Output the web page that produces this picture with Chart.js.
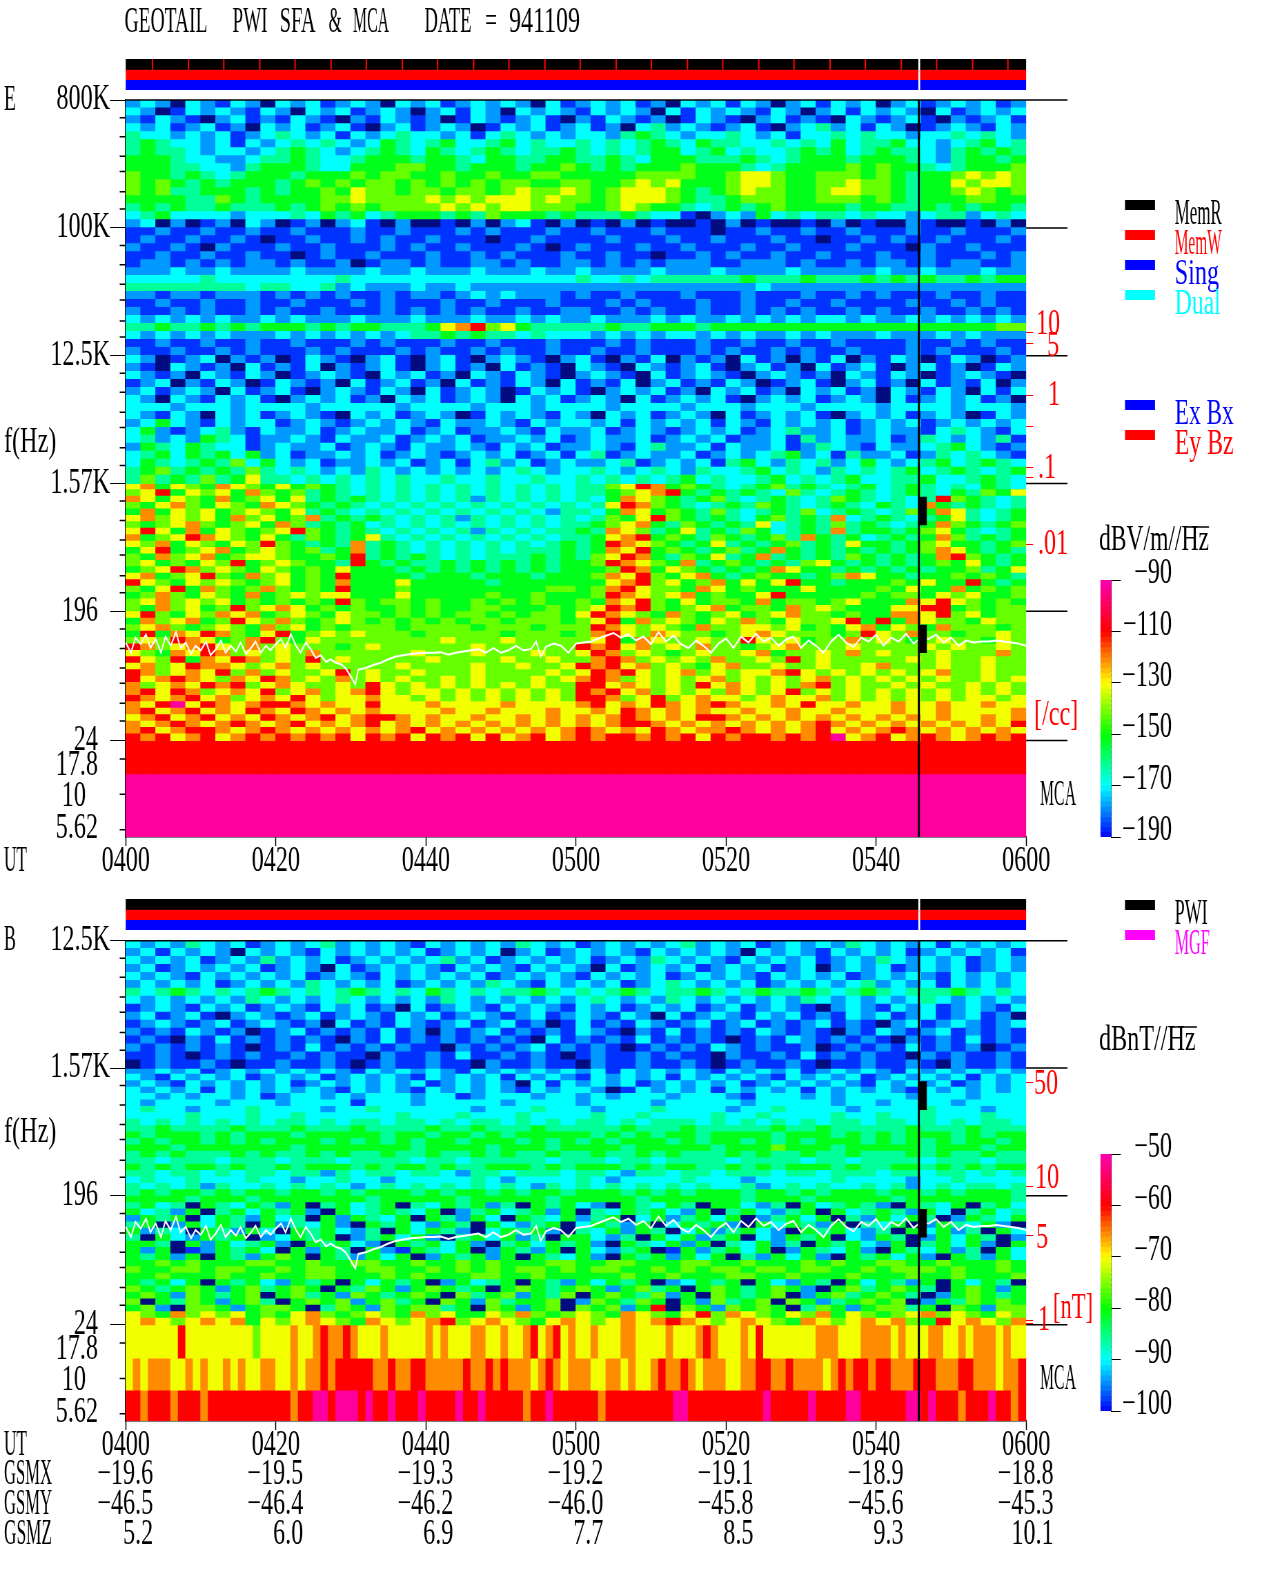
<!DOCTYPE html>
<html>
<head>
<meta charset="utf-8">
<title>GEOTAIL PWI SFA & MCA 941109</title>
<script src="https://cdn.jsdelivr.net/npm/chart.js@4"></script>
<style>
  html, body { margin: 0; padding: 0; background: #fff; overflow: hidden; width: 1280px; height: 1593px; }
  canvas { position: absolute; left: 0; transform-origin: 0 0; }
</style>
</head>
<body>
<canvas id="specE" width="1855" height="900" style="top:0"></canvas>
<canvas id="specB" width="1855" height="723" style="top:870px"></canvas>
<canvas id="stripE" width="1855" height="31" style="top:59px"></canvas>
<canvas id="stripB" width="1855" height="31" style="top:899px"></canvas>
<canvas id="barE" width="1855" height="320" style="top:540px"></canvas>
<canvas id="barB" width="1855" height="320" style="top:1114px"></canvas>
<script>
// level letters: k below range, then blue to magenta along the colour bar
const letterDb = {k:-200,b:-186,d:-178,c:-170,t:-162,g:-152,l:-142,y:-131,o:-121,r:-110,m:-92};

// E field, 800K down to 1.57K, 2 min columns
const eUpperRows = [
"dcdkcdbcdk cdcbdcdkcd cbdcdcdkcb dcdcbdkcdc bcdkdcbcdc kdcbdcdcbd",
"cdkbcdcdbc dkcdcbdcdk dcbcdkcdcd bcdcdkcbcd cdbcdkdcbc dcdkcbdcdc",
"dbcdbkdcbd bcdbkdbcdb dkbcdbdcbk dbcdbdkbcd bkdcbdbkcd bdcbkdbdcb",
"cdcbdcbdkc dcbdcbkdcb dcdkbcdcbd cbdkctdcdb dcbkdctdcb cdkbdcdbcd",
"tccdcdcbdc tcdcbcdctc cdcbctcdcd ccdtgtcdcc tcdcbcctct ccdcctctcd",
"tgtccdcbcd ctctcdcgtc tgcctgctcc tctctgtcgt tcctctcgct tgccdctgct",
"tgttcdccdc tgtcdctgtc gtctgtcttg tctctggctg ctcctgtgct gttcdtgtgt",
"gggtccddct tgtcctgggt ggtcggttgg ttgtcgggtt tgtctgggtg ggtcdtggtg",
"gggttccdtg ggtccgggll ggtgggtggl gtgtggglgg gtctgggglg lggtctgggl",
"lggtgtctgg gtggglgllg glgglggllg ggggllllgg lyylgglllg lgtgglylyl",
"lglgtgtggg tglglgllgl glglgllggl lgglylyggg lyylggllyl lgtggylyyl",
"lglttgggtg tgglgyllgl lgllglylly lglyyylgtg lyllgglyyl lgtgglylgl",
"ggggttlgtg gggllyllll ylylyyylyl lglyyylgtt glllgglllg lgtgggllgg",
"tgtgttgttt gtglglglll lylylyylll gglylggtct gtglggggtg gttgtgtggt",
"ctgccccdcc ctcgtgctgg gtgtlgggtg tttgtccbkd cdgctcttct ccdcttdctc",
"dckdkbdkcd kbdkdcbkdk kbkdkdcbkd kbkdkbkkbk dkbkkbkdkb kkdbkkbkdk",
"bbdbbdbbdb bdbbbdbbdb bbdbdbbbdb bdbbbdbbbk bbdbbdbbdb bbdbbdbbbd",
"bdbbdbbdbk bbdbbdbdbb dbbbkbbdbb bbdbbbdbbd bbbdbbkbbd bdbbdbbbdb",
"dbbdbkdbbb dbbdbbbdbd bbdbbbdbkb dbbbdbbdbb bdbbdbbbdb bbkdbbdbbb",
"bbdbbdbbdb bkbdbbdbbb dbbdbdbbbd bbdbbkbbdb dbbdbbdbbb dbbdbbbdbd",
"bddbdbdbdd bdbbdkbddb dbbddbdbbd dbdbdbdddb bdddbdbbdb ddbdbddbbd",
"dddcddcddd dcddddcddc dddcdddcdd cddddcdddc ddddcddddd cddcdddcdd",
"ccccctcccc cccctccccc cccccccccc tcctcttttt tgtttgtttg tgtgttgtgg",
"ttttttttct tcctdcdddc ddcddddddd dddddddddd ddcddddddd dddddddddd",
"ddbddbdddb dbdbdbbdbd dbdcdcdddb dbbdbbbdbb bdbbbdbbdb dbbbdbbdbb",
"bbdbbdbbdb bdbbbdbdbb bdbbdbbbdb bbdbdbbbdb bdbbdbbdbb bbdbbdbdbb",
"dbbdbdbbdb dbbdbbbdbd bdbdbbdbbd dbbdbdbbdb bdbdbdbbdb dbbdbbdbdb",
"cdcdcdcddc dcdddcdddc dddcddcdcd dcdddcdcdd cdcdcdccdc ddcdcdcdcd",
"ttgttgtgtg ggtgtggttt gyorlygttt ttgttgggtg gggggggggg ggggggggll",
"cdcdcdcddd cdcdcdcdct tgtgttctcc cdcdcdccdc dcddcdcddd cdddcdcddd",
"bbdbbdbbdb bdbbbdbdbb bdbbdbbbdb bbdbdbbbdb bdbbdbbdbb bbdbbdbdbb",
"dbbdbbdbdb bbdbdbbbdb dbbdbdbbdb bdbbdbbbdb dbbdbdbbdb bbdbdbbbdb",
"cdkbdckdbd kbcdbkdcbk dcbkdcdbkd cbkdbckdbd kcbdkdbckd bcdkbcdkbd",
"dbkcdbdkcb dbckdbdcbk dcbdkcbdbk cdbkcdbdcb kdcbdkcbdc bkdcbdkbcd",
"cdbdkcdbcd kbdcdbkcdc bdkcdbcdbk dcdbkcbdcd bkdcdbdkcd bcdkbdcdbk",
"bdckdbcdkb cdbdkcbdcb dkcbdbcdkc bdbckdcbdb cdkbdcbkdc bdkcbdbckd",
"dcbdcdkcbd cbkdcdbcdk cbdcdkbcdc bkdcdcbdkc dcbdkcdcbd kcdbcdkcbc",
"cdkcdbcdcb kdcdcbdkcd cbdcdkcdcb dcdkcbdcdc bkdcdcbdcd kcbdcdcbdk",
"cccdcccdcc ccdcccccdc cccdcccdcc ccdccccdcc cdcccdcccc dccccdcccd",
"cdbcdkcdcb dcdbkcdcbd cdkbcdcdbc dkcdcbdcdk cbdcdcbkdc dcbdcdkbcd",
"dcgcdbcdcc bdcdbdcdcd bcddcdbcdc cdcbcdcdcb cdbcdcdcbd cdcbdcdcdc",
"cgdbdctdbc ddcbdcddcb dcbddcdbcd dcbdcdbdcd cbdctddcbd cddbctcdbc",
"ctdcdgtcbd dcdbcddcbd cdcbddcdcb dcddcbdcdc bddcbtdcdd cbdtcdcdtb",
"dgtcgtccbd cddcbdcdbc ddcdbcdcbd dcdbctddcb cddcbdtcdb cddctgcdbd",
"ctgcgtgcgd cbddcdcbdc dbdcdcbdcb ctbdcddcbd cdctgdcbtd dcbdtctcdb",
"cgtctgtlcg cdcbddcdcb dcbctdcbdc ddctbdcdcb tgcdtctdcg cdctgctgtc",
"tgltgtgtlt ctcdcdtcdc dcdcdctcdc ctcdctcdtc ctgctcdtct ctgctgtctg",
"tltgtltgyt tctctctctc ctcctcctcc tctctctgct cctgctctgc cttgcctgtc"
];

// E field, 1.57K down to 24
const eLowerRows = [
"yogylgoylg yglgtctctc tctctctctc ttlyroglgt ctgltgtctg ctgtctcgtc",
"lyrgylygol gltgtctctc tctctctctc ttglyorgtg tgtcltctgt ctgtcgtlgy",
"oygylgogly gytgtgtctc tctdtctctc tcgoylgtgl tctgtctlgt ctctrlgtct",
"lgyolgylgo ylgtgtctct ctctctctct ctyrolgtct gtlgtctgtc gtcogtgtct",
"gogylyglyl gytgtctctc tctctctcdt tcgoyglgtl tctgtlctgt ctlgoytctg",
"yolylygoly glotgtgtct ctdtctctct ctlgyrlgtg tcgltgtoct gtctgytctg",
"lglyolglyg oltgtgctct ctctctctct tglyogtlgt gtyctgtltg tctgolgtgl",
"yrygogylgl yrlgtgtctc tctdtctctt gtoyltgytg tlgctgtotg gtglygtctg",
"oglyroylgy gtlgtgytct ctctctctct tgyorglgtl gtgltogtgc tgtgoltgtg",
"ylogylgylr lgtgtotgtc tctctctctg tgroylgtgy tgtgltgtyg gtglyggtgl",
"gyrglyogly lgltgotgtc tctctctttg tgoyrglgtg ltgogtgtgt gtgloygtgt",
"lgolyoglyy lgglgrtgtg tctctttgtg tlyrogtlgy tgotgtgtlg tgtgorlgtg",
"lyglgylrgl ylggtrgtgt tgtgtgtgtg glroylgotg lgtgtlygtg tgtglgygtg",
"glyrolylgy lglgygggtg tgtgtgtgtg gglrogylgt gtgoyggtgt gtgtggltgy",
"yoglyrlgol yglgrggggt gggtgggtgg gloyrlgyog tglggtgloy ggtgglglgt",
"rylgylylgl yglgogggyg ggggtggggg ggyorlyglo gygyrggtgg glgyggrgtg",
"lgyrgolglo lglgrggglg ggggggggll gloryllgoy glgggygggg lgyggoglgl",
"glolgylgog lylyygggyg gggglgglgg glroylyogl ggyrgggggl gllgylyggl",
"lyolylyglg lglgrlgllg lgglglglgg lgoyrlgygl lgogllglyg ggoyrylglg",
"lgolyglrly oyglglgglg lggllggglg lyrorlglyo gllgolylgg gyyrrglgll",
"yrlgyloyog lylgyllglg lgllglgllg yroylgolgl yglyollglg gooyrlygll",
"golyoglryl olglylglgl glgllglllg lyrgolylgy lolgyllyrg rgoyllgyll",
"lyolglylgo lyglglllgl lllglllgll lroylylgol lyylyglgyo gylgolllgl",
"grgoyrolgy rglylylllg lllllglllg loryloyllg lyoylllglr ylollgllyl",
"lylroyglor lgylllllll lylllyllll lyrgoyllyl lrylygllol ylglyllgyl",
"rolyorylol ylllglylll lllyllllll roryolylol lglyolllyl lllylyllyl",
"ylgoyrolyl ylolllllly lllylllyll yrolylglyl lyogllylol ylllylllol",
"rylrgoyrol ylrlylllll yllllyllyl lorolylylo llylrlylll llylyllyll",
"yolyrooyly olylllllyl lllyllylly roryolylgy ollyllylly olllyllyll",
"rolyoyrlol yllyrlylly lllyllllyl yrorylyoly lyyorylyly lylyollyll",
"ryoroyloyr olylolylyl lylylllyly orolylylyo lylylyolyl ylylyllyly",
"olyoyrorly oyllylryly lylylylyll rryoylylry oylylorlyl lylyllylyl",
"oryrolyoyr lyolyoryly ylylylylyl roryolylyl oylyrlylyl ylylylylyl",
"royoryolyo yrylyyoyyl ylylylylyl rrolyrlyoy ylyoyyolyl ylylylyyly",
"oyrmyroyor royoyyryyy oyyyyoyyyy oryoyroyor oyyoyryyoy yoyyoyyoyy",
"oryoryoyro yroyoyoyyy yoyyoyyyoy yoyroyoyoy yoyyoyyoyy yoyyoyyyyo",
"yoryoryoyr oyoryorroy oyyoyyoyoy oyoroyoyrr oyoyoyoyoy oyoyoyyoyo",
"oyoroyoroy oryoyoryoy oyoyoyoyoy oyorroyoyo yoyoyoroyo yoyoyoyoyr",
"oryorroyor oyoyoyoyor yoyoyoyoyo royoyroyoo royoyoryoy oroyoyoyoy",
"roryoryoro rororyrory roryryoryo rorrororyr orrorormyo ryoroyoror"
];

// E field MCA channels
const eMcaRows = [
"rrrrrrrrrr rrrrrrrrrr rrrrrrrrrr rrrrrrrrrr rrrrrrrrrr rrrrrrrrrr",
"mmmmmmmmmm mmmmmmmmmm mmmmmmmmmm mmmmmmmmmm mmmmmmmmmm mmmmmmmmmm"
];

// B field, 12.5K down to 1.57K
const bUpperRows = [
"cdcdtcdcbd cdctdcdcdb cdcdcdtcdc bdcdcdctdc dcbdcdcdtc dcdcbcdcdc",
"dcbcdcdkcd cdbcdcdcdc bdcdckdcbd cdcdbcdcdc dkcdcdbcdc dcbdcdcdcb",
"cdcdcbdcdt dcdcbdcdcd ctdcbdcdcd cbdcdtcdcd bcdcdcbdcd tcdcdcbdcd",
"dcbdcdcdcb dcdkcbdcdc dbcdcdbcdc dkcbdcdcbd cdcbdckdcd cbdcdcbdcd",
"cdcdbcdcdc dcbdcdbcdc dcdcbdcdcd bcdcdcbdcd cdbcdcdcbd cdcdbcdcdc",
"dcdcdcbdcd cdtcdcdcbd cdcdtcdbcd cdcbdctcdc dcbdcdcdct dcdcbcdcdc",
"tctgtctctg tctctgtctc gtctcttgtc tctgtcttgt ctgttgtctg tctttgtctc",
"cdcdcdcdtc dcdctcdcdc dtcdcdcdcd ctcdcdtcdc dcdcdtcdcd cdctcdcdcd",
"bdcdbcdcbd cdbcdcbdkc bdcdbcdcdb cdcbdcdcbd cbdcdbkdcd bcdcbdcdbc",
"dcbdcbkdcd bdcbdcdbcd cbdcdbdcbd cdbcdkcbdc dbcdcbdbcd cbdcbdcbdk",
"bdcdbdcbdc dbdkcbdbcd bdcbdcbdkb cbdbcdbdcb dcbdbdcbdb kdcbdcdbdc",
"dbdbcdbdkb dcbdbdbcbd kdbdcbdbdb cdbkdbcbdb dbcdbdbkdb cdbdcbdbdb",
"bdbkdbcbdb dbdbkdbcbd bdbdbdbkcb dbdbcbdbdb kbdbcdbdbd bkdbdbcbdb",
"dbdbdbdbkb dbcbdbdbdb bkdbdbdcbd bdbkbdbdbc dbdbbdkbdb dbcbdbdkbd",
"bbdbkbdbdb bdbdbbkdbb dbcbbdbdbk bdbbdbdbbk dbbdbcbdbd bbkdbdbbdb",
"kbdbbdbkbb dbbdbkbdbb dbbkdbbdbb kdbbdbbdbk bdbbdbkbbd bbdbkdbbdb"
];

// B field, 1.57K down to 24
const bLowerRows = [
"ddcdcbdcdc dcdcdbcdcd cdbcdcdcdc dcbcdcdcdb cdcdcbdcdc dbcdcdcdcd",
"cdbcdcdcbd cdcbdcdcdb cdcdcbcdcd bcdcdcbcdc dcdbcdcdcb dcdcdcbcdc",
"dcdbcdcdcd cbdcdcdcdc bdcdcdkcbc dcdcbdcdcd cbdcdcdcdb cdcdcbdcdc",
"cdcdcbcdcd cdcdbcdcdb cdcdcdbcdc cdkbcdcdcb cdcdcbcdcd cdbcdcdcdc",
"ccdcdccdcb dccdcdcccd ccbdcccdcc dcdcccdccc dbcccdcdcc ccdcccdccc",
"cdccccdccc dccccbcccd cccccdcccc dccccdcccc cdcccccdcc dccccdcccc",
"ctccdccctc cccdcctccc cccdccctcc cdccctcccc dcctccccdc ccctcccdcc",
"cccctccctc ctcccccctc cctccctccc ctcctcccct cctcccctcc tcctccctcc",
"tctctctctc ttctcttctt ctcttctctc ttctctttct ctctctcttc ttctctcttc",
"ttgttttgtt tgtttgtttt gttgtttgtt tttgtttgtt tttgttgttt ttgtttgttt",
"gtgggtgtgg gtgggggtgg tggtgtgggg gtgtgtggtg gggtgggtgt gtgggtgtgg",
"tgtggtgtgt gggtgtgtgt ggtgggtgtg tgtgggtgtg gtgtgtgggt gtgtgtggtg",
"gggtgggggg gtgggggggt ggggtgggtg gggtgggggt ggglgggtgg gggtgggtgg",
"tgtgtttgtg ttgtgttgtt gttgtgttgt tgttgtgttt gtgttgttgt ttgtgttgtt",
"ttctttcttt ctttcttttc ttctttttct ttcttctttt cttttcttct tttctttctt",
"gtgtggtgtt gtgggtgtgg tgttgggtgt gggtgtggtt gtgtgggtgt tggtgtgtgg",
"ttcttctctt cttdtcttct tcdttctttc ttcdttcttc tttcttcttt cttcttctct",
"ctcctccctc cdcctccdcc ccctcdcccc tcdcccctcc cdccccctcc ccdcctcccc",
"tctctdtcct ctctcdctct ctctctcdtc tctctctctc ctdctctcct ctdctcttct",
"tgtggtgtgg tggtgtgggt gtggtgtggt gggtgtgtgg gtggtgtggg tggtgtgggt",
"ggggtgggtg ggggggtggg ggtgggggtg ggggtggggg gtgggtgggg gtgggggggt",
"tgctkgtcgt dgktgctgkt cgtgdtkgtg cdkgtcgtkg gcdtkgctgt dkgtcgktgc",
"gctdgktgcg tgdkgctgtc gkdtgctgdg ktcgtgcdgk tgcdtgkgct gtdgcktgct",
"dgtgkcgtdg ctkgdgtcgk gtdgckgtcg dtgkcgdtgc gkdtgcgktd gcgtkdgtcg",
"tgkdgcgtkg dtcgdkgtgc dgtkgcdtgk cgtdgkcgtg dkgcgtdgkt cgkdgtcgdk",
"gdtckgtdgc kgtgcdtkgc gtdkcgtgdk tcgdgtkcgd tgcdkgtgcd tkgcgdtkgc",
"tkgcdgtgkd cgtgkdtgcg dktgcgdtkg gcdtkgcgdt gkcdgtgkcd gtkdgcgtkd",
"ggtkgdgctg dkgtgcdkgt gcgdktgcgt gdkgtcgdgk tcgdtkgtgc dgktgcgdkg",
"gdgkbdgtgc kgdgtkgdbg tcgkdgtdgk gcdtgkbgdt gcgkdgtcgd kgtcgdtkgc",
"gtgdgkgtdg lgkgtdgcgk dgtgdgkgtc gdkgtgdgcg ktdgcgdkgt gcgdkgtdgc",
"gglglgggll gglggllggl gglglgggll ggllgggllg glggglglgg llgglggglg",
"lggllgllgg lgllggllgg lglglgllgl gllgglglgl lgllgllggl glllglgglg",
"gglggglggl ggllggglgl gggllgglgg ggglgglggg llgglggglg gglgglgggl",
"gtgcgkgtgc dgtgkgcgtg kdgctgkgtd gcgtgkdcgt gkgcdgtkgc gtdgkgcgtk",
"lgtglgdglt glgkgtlgdg lgtgkglgtg lgdgltgkgl gtglgdkglt glgtkglgdg",
"glgdlgtglk gltgdlgtgl gkltgldgtl kglgtldgkl gtglkdgltg lgtkdglgtg",
"lkgtlgdglt kglgldgltg klgdltgglk dlgtlgkgdl tglklgdtgl glkdgtlglg",
"gldkllgdgl lgktlgdlgl ltgklgdglk lgldgrklgd lglgktlgdg lltgklgdll",
"ylgolylygl gyolglylgo lyggylolgl ylgoylgyrl oylgylogyl glyolylgyl",
"yoylyoyogy lyoylgoyly orlyoylgyo ylyoyoroyl yoylgoylyo yolgryoylo"
];

// B field MCA channels, 1 min columns
const bMcaRows = [
"yyyyyyyryy yyyyyyylyy yyoyyoroor oyyyoyyyyy oyoyyyooyy oyyoryoryo yyoyyyooyy yyoyyyoroy yyoyryyyyy yyoooyyyoo ooyoyyyooy yoyoooyoyy",
"yoyoooyyoy oyyoyoyyoo yyoyoororr rrrooroorr ooooorooro roooyoroyo ooyyooyoyy orooroyooo yyoorrooro oooyororro rrooorrroo orroooyoor",
"rrorrrorrr orrrrrrrrr rrorrmmrmm mrmrrmrrrm rrrrmrrmrr rrrorrmrrr rrrorrrrrr rrrmmrrrrr rrrrrmrrrr rmrrrrmmrr rrrrmmrmrr rorrrmrror"
];

// white trace, minutes after 0400 and Hz
const traceMinutes = [0,0.7,1.3,2,2.7,3.3,4,4.7,5.3,6,6.7,7.3,8,8.7,9.3,10,10.7,11.3,12,12.7,13.3,14,14.7,15.3,16,16.7,17.3,18,18.7,19.3,20,20.7,21.3,22,22.7,23.3,24,24.7,25.3,26,26.7,27.3,28,28.7,29.3,30,30.6,31,32,33,34,35,36,37,38,39,40,41,42,43,44,45,46,47,48,49,50,51,52,53,54,54.7,55.3,56,57,58,59,60,61,62,63,64,65,66,67,68,69,70,71,72,73,74,75,76,77,78,79,80,81,82,83,84,85,86,87,88,89,90,91,92,93,94,95,96,97,98,99,100,101,102,103,104,105,106,107,108,109,110,111,112,113,114,115,116,117,118,119,120];
const traceHz = [118,100,128,115,135,108,125,100,130,112,140,108,118,98,112,104,120,96,106,122,100,112,102,118,98,108,120,100,112,104,115,125,108,135,112,100,118,105,92,96,86,90,85,83,78,68,60,76,78,82,85,90,94,96,98,99,100,100,101,97,100,102,104,106,100,108,100,104,112,104,106,120,94,110,116,112,100,116,118,120,126,132,138,128,135,122,130,115,140,120,132,115,108,122,112,100,116,126,108,130,118,136,120,128,112,124,130,108,122,112,100,120,134,118,110,128,120,134,112,128,120,136,116,128,125,134,118,128,112,122,118,120,120,122,120,118,116,112,114];

// instrument status
const statusGapStart = 105.6;
const statusGapEnd = 105.9;
const statusTicks = [3.5,8.3,13.0,17.8,22.5,27.3,32.0,36.8,41.5,46.3,51.0,55.8,60.5,65.3,70.0,74.8,79.5,84.3,89.0,93.8,98.5,103.3,108.0,112.8,117.5];
const dataGapMinute = 105.7;
const gapBlockMinute = 106.2;
const gapBlocksHz = [[798,1258],[100,157]];

// axes
const timeTicks = [0,20,40,60,80,100,120];
const timeLabels = ['0400','0420','0440','0500','0520','0540','0600'];
const gsmX = ['−19.6','−19.5','−19.3','−19.2','−19.1','−18.9','−18.8'];
const gsmY = ['−46.5','−46.4','−46.2','−46.0','−45.8','−45.6','−45.3'];
const gsmZ = ['5.2','6.0','6.9','7.7','8.5','9.3','10.1'];
const fs = '\u2007';
// the three MCA labels do not sit exactly on their short ticks
const eFreqTicks = [800000,100000,12500,1570,196,24,15.9,9.65,5.7];
const eFreqLabels = ['800K','100K','12.5K','1.57K','196'+fs,'24'+fs,'17.8'+fs,'10'+fs+fs,'5.62'+fs];
const bFreqTicks = [12500,1570,196,24,15.9,9.65,5.7];
const bFreqLabels = ['12.5K','1.57K','196'+fs,'24'+fs,'17.8'+fs,'10'+fs+fs,'5.62'+fs];
const longTicksHz = [800000,100000,12500,1570,196,24];
const shortTicksHz = [600000,440000,320000,250000,180000,136000,75000,55000,40000,31000,22000,17000,9400,6900,5000,3900,2800,2100,1180,860,625,490,350,265,147,107,78,61,44,33,17.8,10,5.62];
const densityTicksHz = [18400,15300,6560,3960,2040,1730,586];
const densityLabels = [['10',18400,1036,-10],['5',15300,1047,1],['1',6560,1048,-2],['.1',2040,1038,-1],['.01',586,1038,-2]];
const fieldTicksHz = [1250,229,102,25.6,24.4];
const fieldLabels = [['50',1250,1034,0],['10',229,1035,-10],['5',102,1036,0],['1',25.3,1038,-3]];
const eBarTicks = [-190,-170,-150,-130,-110,-90];
const bBarTicks = [-100,-90,-80,-70,-60,-50];
const barLevels = [-190,-188,-186,-184,-182,-180,-178,-176,-174,-172,-170,-168,-166,-164,-162,-160,-158,-156,-154,-152,-150,-148,-146,-144,-142,-140,-138,-136,-134,-132,-130,-128,-126,-124,-122,-120,-118,-116,-114,-112,-110,-108,-106,-104,-102,-100,-98,-96,-94,-92];

// text placed on the page: text, x, y, colour, width
const eTexts = [
  ['GEOTAIL',124.5,20,'#000',83],['PWI',232.6,20,'#000',35],['SFA',279.6,20,'#000',36],['&',328.6,20,'#000',13],
  ['MCA',353,20,'#000',36],['DATE',424.5,20,'#000',47],['=',485,20,'#000',12],['941109',509,20,'#000',71],
  ['E',4,98,'#000',12],['f(Hz)',4,440,'#000',57],['UT',4,859,'#000',23],
  ['MemR',1174.7,212,'#000',47],['MemW',1174.7,242,'#f00',47],['Sing',1174.7,272,'#00f',47],['Dual',1174.7,302,'#0ff',46],
  ['Ex Bx',1174.7,412,'#00f',59],['Ey Bz',1174.7,442,'#f00',59],
  ['[/cc]',1034,713,'#f00',51],['MCA',1040,793,'#000',36],['dBV/m//Hz',1099,538,'#000',110]
];
const bTexts = [
  ['B',4,938,'#000',12],['f(Hz)',4,1130,'#000',57],['UT',4,1443,'#000',23],
  ['GSMX',4,1472,'#000',48],['GSMY',4,1502,'#000',48],['GSMZ',4,1532,'#000',48],
  ['PWI',1174.7,912,'#000',33],['MGF',1174.7,942,'#f0f',35],
  ['[nT]',1053,1306,'#f00',40],['MCA',1040,1377,'#000',36],['dBnT//Hz',1099,1038,'#000',98]
];
const eSwatches = [[200,'#000'],[230,'#f00'],[260,'#00f'],[290,'#0ff'],[400,'#00f'],[430,'#f00']];
const bSwatches = [[900,'#000'],[930,'#f0f']];

const SQ = 0.69;
const FONT = '"Liberation Serif"';
const TEXT_DROP = 2.5;
const stops = [[-190,0,0,255],[-170,0,255,255],[-150,0,255,0],[-130,255,255,0],[-110,255,0,0],[-90,255,0,176]];

function colorOf(db) {
  // the black specks of the reference are far smaller than a cell, so they read as navy here
  if (db < -190) return '#000c80';
  for (let i = 1; i < stops.length; i++) {
    if (db <= stops[i][0]) {
      const a = stops[i-1], b = stops[i], t = (db - a[0]) / (b[0] - a[0]);
      return 'rgb(' + [1,2,3].map(k => Math.round(a[k] + (b[k]-a[k])*t)).join(',') + ')';
    }
  }
  return 'rgb(255,0,176)';
}

function cells(rows, fTop, fBottom) {
  const data = [], colors = [];
  let len = 60;
  rows.forEach((row, r) => {
    const s = row.replace(/ /g, '');
    len = s.length;
    const hi = fTop * Math.pow(fBottom/fTop, r/rows.length);
    const lo = fTop * Math.pow(fBottom/fTop, (r+1)/rows.length);
    for (let i = 0; i < s.length; i++) {
      data.push({x: (i+0.5)*120/s.length, y: [lo, hi]});
      colors.push(colorOf(letterDb[s[i]]));
    }
  });
  return {type:'bar', data:data, backgroundColor:colors, borderWidth:0, inflateAmount:0.6,
    barThickness: 7.5*120/len/SQ, grouped:false, order:5, yAxisID:'y'};
}

function line(points, color, width, order) {
  return {type:'line', data:points, borderColor:color, borderWidth:width, pointRadius:0, tension:0,
    clip:false, order:order, yAxisID:'y'};
}

function rules(freqs, x0, x1, color) {
  const pts = [];
  freqs.forEach(f => { pts.push({x:x0,y:f}, {x:x1,y:f}, {x:x1,y:null}); });
  return line(pts, color, 1.5, 2);
}

function pageText(texts, swatches, redLabels, rowLabels, top, overline) {
  return {
    id: 'pageText',
    afterDraw(chart) {
      const c = chart.ctx;
      c.save();
      c.font = '35px ' + FONT;
      c.textBaseline = 'middle';
      c.textAlign = 'left';
      texts.forEach(t => {
        c.fillStyle = t[3];
        c.fillText(t[0], t[1]/SQ, t[2]-top+TEXT_DROP, t[4]/SQ);
      });
      swatches.forEach(s => {
        c.fillStyle = s[1];
        c.fillRect(1125/SQ, s[0]-top, 30/SQ, 10);
      });
      c.fillStyle = '#f00';
      redLabels.forEach(l => {
        c.fillText(l[0], l[2]/SQ, chart.scales.y.getPixelForValue(l[1]) + l[3] + TEXT_DROP);
      });
      c.fillStyle = '#000';
      c.strokeStyle = '#000';
      c.lineWidth = 1.5;
      c.beginPath();
      c.moveTo(overline[0]/SQ, overline[2]-top);
      c.lineTo(overline[1]/SQ, overline[2]-top);
      c.stroke();
      c.textAlign = 'right';
      rowLabels.forEach(r => {
        timeTicks.forEach((t, i) => {
          c.fillText(r[0][i], chart.scales.x.getPixelForValue(t) + 27.5/SQ, r[1]-top+TEXT_DROP);
        });
      });
      c.restore();
    }
  };
}

function spectrogram(id, datasets, fMax, freqTicks, freqLabels, redTicks, plugin, topPad, bottomPad) {
  return new Chart(document.getElementById(id).getContext('2d'), {
    data: {datasets: datasets},
    plugins: [plugin],
    options: {
      responsive:false, animation:false, devicePixelRatio:1,
      events:[],
      layout:{padding:{left:0, top:topPad, bottom:bottomPad, right:(1280-1026.2-7)/SQ}},
      plugins:{legend:{display:false}, tooltip:{enabled:false}},
      scales:{
        x:{type:'linear', min:0, max:120, offset:false,
          afterBuildTicks(s){ s.ticks = timeTicks.map(v => ({value:v})); },
          afterFit(s){ s.height = 50; },
          grid:{drawOnChartArea:false, offset:false, tickLength:9, color:'#000', tickWidth:1.5},
          border:{color:'#000', width:1.5},
          ticks:{color:'#000', font:{family:FONT, size:35}, padding:-5, maxRotation:0, autoSkip:false, align:'center',
            callback(v){ return timeLabels[timeTicks.indexOf(v)]; }}},
        y:{type:'logarithmic', position:'left', min:5, max:fMax,
          afterBuildTicks(s){ s.ticks = freqTicks.map(v => ({value:v})); },
          afterFit(s){ s.width = 125.7/SQ; },
          grid:{drawOnChartArea:false, tickLength:15.7/SQ,
            tickColor(c){ return longTicksHz.includes(c.tick && c.tick.value) ? '#000' : 'rgba(0,0,0,0)'; }},
          border:{color:'#000', width:1.5},
          ticks:{color:'#000', font:{family:FONT, size:35}, padding:0, labelOffset:0, autoSkip:false,
            callback(v){ return freqLabels[freqTicks.indexOf(v)]; }}},
        yr:{type:'logarithmic', position:'right', min:5, max:fMax,
          afterBuildTicks(s){ s.ticks = redTicks.map(v => ({value:v})); },
          afterFit(s){ s.width = 7/SQ; },
          grid:{drawOnChartArea:false, tickLength:7/SQ, tickColor:'#f00'},
          border:{display:false},
          ticks:{display:false}}
      }
    }
  });
}

function overlays(fMax, freqRight, blocks) {
  const trace = traceMinutes.map((m, i) => ({x:m, y:traceHz[i]}));
  return [
    line(trace, '#fff', 2, 3),
    line([{x:dataGapMinute,y:fMax},{x:dataGapMinute,y:5}], '#000', 3, 1),
    rules(freqRight, 120, 125.5, '#000'),
    rules(shortTicksHz.filter(f => f < fMax), -0.8, 0, '#000'),
    rules([fMax], 0, 125.5, '#000'),
    {type:'bar', data:blocks.map(b => ({x:gapBlockMinute, y:b})), backgroundColor:'#000', barThickness:8/SQ, grouped:false, order:1.5, yAxisID:'y'}
  ];
}

function strip(id, withTicks) {
  const rows = ['MemR','MemW','Sing'];
  const colors = ['#000','#f00','#00f'];
  const sets = [];
  rows.forEach((r, i) => {
    sets.push({data:[{y:r, x:[0,statusGapStart]},{y:r, x:[statusGapEnd,120]}], backgroundColor:colors[i], grouped:false,
      categoryPercentage:1, barPercentage:1, borderWidth:0, order:2});
  });
  if (withTicks) sets.push({data:statusTicks.map(t => ({y:'MemR', x:[t,t+0.13]})), backgroundColor:'#f00', grouped:false,
    categoryPercentage:1, barPercentage:1, order:1});
  return new Chart(document.getElementById(id).getContext('2d'), {
    type:'bar',
    data:{labels:rows, datasets:sets},
    options:{
      indexAxis:'y', responsive:false, animation:false, devicePixelRatio:1, events:[],
      layout:{padding:{left:125.7/SQ, right:(1280-1026.2)/SQ, top:0, bottom:0}},
      plugins:{legend:{display:false}, tooltip:{enabled:false}},
      scales:{x:{type:'linear', min:0, max:120, display:false}, y:{type:'category', display:false}}
    }
  });
}

function colorBar(id, ticks, toValue) {
  const data = barLevels.map(l => ({x:0.5, y:[toValue(l), toValue(l+2)]}));
  return new Chart(document.getElementById(id).getContext('2d'), {
    type:'bar',
    data:{datasets:[{data:data, backgroundColor:barLevels.map(l => colorOf(l+1)), barThickness:11/SQ, borderWidth:0, inflateAmount:0.5, grouped:false}]},
    options:{
      responsive:false, animation:false, devicePixelRatio:1, events:[],
      layout:{padding:{left:1100.4/SQ, right:(1280-1172)/SQ, top:40, bottom:23}},
      plugins:{legend:{display:false}, tooltip:{enabled:false}},
      scales:{
        x:{type:'linear', min:0, max:1, offset:false, display:false},
        y:{type:'linear', position:'right', min:ticks[0], max:ticks[5],
          afterBuildTicks(s){ s.ticks = ticks.map(v => ({value:v})); },
          afterFit(s){ s.width = (1172-1111.4)/SQ; },
          grid:{drawOnChartArea:false, tickLength:9.4/SQ, tickColor:'#000'},
          border:{color:'#000', width:1},
          ticks:{color:'#000', font:{family:FONT, size:35}, padding:0, labelOffset:-6, crossAlign:'far', autoSkip:false,
            callback(v){ return '−' + Math.abs(v); }}}
      }
    }
  });
}

const eSets = [
  cells(eUpperRows, 800000, 1570),
  cells(eLowerRows, 1570, 24),
  cells(eMcaRows.slice(0,1), 24, 14),
  cells(eMcaRows.slice(1), 14, 5)
].concat(overlays(800000, [100000,12500,1570,196,24], gapBlocksHz));

const bSets = [
  cells(bUpperRows, 12500, 1570),
  cells(bLowerRows, 1570, 24),
  cells(bMcaRows.slice(0,1), 24, 14),
  cells(bMcaRows.slice(1,2), 14, 8.3),
  cells(bMcaRows.slice(2), 8.3, 5)
].concat(overlays(12500, [1570,196,24], gapBlocksHz));

spectrogram('specE', eSets, 800000, eFreqTicks, eFreqLabels, densityTicksHz,
  pageText(eTexts, eSwatches, densityLabels, [], 0, [1187,1209,527]), 100, 13);
spectrogram('specB', bSets, 12500, bFreqTicks, bFreqLabels, fieldTicksHz,
  pageText(bTexts, bSwatches, fieldLabels, [[gsmX,1472],[gsmY,1502],[gsmZ,1532]], 870, [1170,1197,1027]), 70.7, 122);
strip('stripE', true);
strip('stripB', false);
colorBar('barE', eBarTicks, l => l);
colorBar('barB', bBarTicks, l => (l+190)/2-100);

// everything is drawn wide and squeezed sideways, the reference font is narrow
document.querySelectorAll('canvas').forEach(c => {
  c.style.transform = 'scaleX(' + SQ + ')';
});
</script>
</body>
</html>
